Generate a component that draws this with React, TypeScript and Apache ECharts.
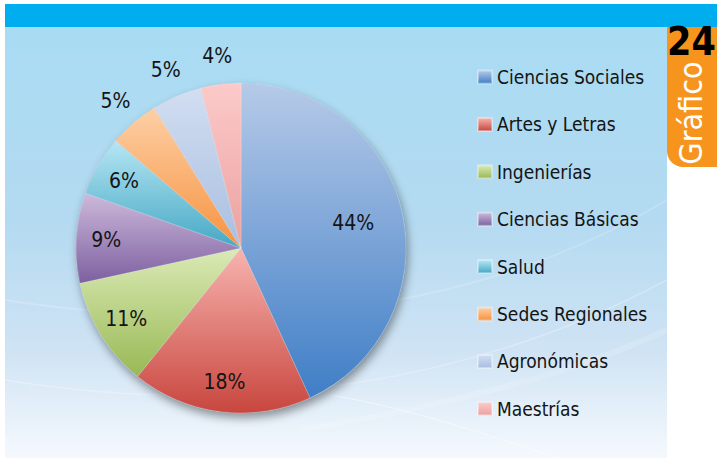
import React, { useEffect, useRef } from "react";
import * as echarts from "echarts";

const categories = [
  "Ciencias Sociales",
  "Artes y Letras",
  "Ingenierías",
  "Ciencias Básicas",
  "Salud",
  "Sedes Regionales",
  "Agronómicas",
  "Maestrías",
];
const values = [44, 18, 11, 9, 6, 5, 5, 4];
const tabNumber = "24";
const tabWord = "Gráfico";

// label placement groups (index lists)
const bigInside = [0];
const inside = [1, 2, 3, 4];
const outside = [5, 6, 7];

const topColors = ["#b6cae8", "#f8b4b0", "#dbeab6", "#cdbadb", "#b6e6f4", "#fdd0a6", "#d2def1", "#fccaca"];
const botColors = ["#3f7ec6", "#c8463e", "#98b954", "#7d60a0", "#45a8c4", "#f7923f", "#a9bee0", "#eaa19f"];

const FONT = "'DejaVu Sans Condensed', sans-serif";

function grad(i: number) {
  return new echarts.graphic.LinearGradient(0, 0, 0, 1, [
    { offset: 0, color: topColors[i] },
    { offset: 1, color: botColors[i] },
  ]);
}

export default function App() {
  const ref = useRef<HTMLDivElement>(null);
  useEffect(() => {
    document.body.style.margin = "0";
    const chart = echarts.init(ref.current!, null, { renderer: "svg" });
    const cx = 241;
    const cy = 248;
    const R = 165;

    const mainData = categories.map((name, i) => ({
      name,
      value: values[i],
      itemStyle: { color: grad(i) },
    }));

    const labelSeries = (idx: number[], radius: number[]) => ({
      type: "pie",
      silent: true,
      animation: false,
      center: [cx, cy],
      radius,
      startAngle: 90,
      z: 5,
      legendHoverLink: false,
      emphasis: { disabled: true },
      itemStyle: { color: "rgba(0,0,0,0)", borderWidth: 0 },
      labelLine: { show: false },
      data: categories.map((name, i) => ({
        name: name + " ",
        value: values[i],
        label: {
          show: idx.includes(i),
          position: "inside",
          formatter: "{c}%",
          color: "#141414",
          fontSize: 21,
          fontFamily: FONT,
        },
      })),
    });

    const option: any = {
      animation: false,
      graphic: [
        {
          type: "rect",
          z: -10,
          shape: { x: 5, y: 27, width: 662, height: 431 },
          style: {
            fill: new echarts.graphic.LinearGradient(0, 0, 0, 1, [
              { offset: 0, color: "#a8dcf3" },
              { offset: 0.45, color: "#b4daf1" },
              { offset: 0.75, color: "#cfe3f4" },
              { offset: 1, color: "#f5f9fd" },
            ]),
          },
        },
        {
          type: "bezierCurve",
          z: -9,
          shape: { x1: 5, y1: 300, cpx1: 200, cpy1: 330, cpx2: 450, cpy2: 330, x2: 667, y2: 200 },
          style: { stroke: "rgba(255,255,255,0.18)", lineWidth: 2, fill: null },
        },
        {
          type: "bezierCurve",
          z: -9,
          shape: { x1: 5, y1: 380, cpx1: 250, cpy1: 420, cpx2: 480, cpy2: 380, x2: 667, y2: 280 },
          style: { stroke: "rgba(255,255,255,0.25)", lineWidth: 1.5, fill: null },
        },
        {
          type: "bezierCurve",
          z: -9,
          shape: { x1: 330, y1: 395, cpx1: 420, cpy1: 410, cpx2: 500, cpy2: 440, x2: 560, y2: 458 },
          style: { stroke: "rgba(255,255,255,0.45)", lineWidth: 1, fill: null },
        },
        {
          type: "bezierCurve",
          z: -9,
          shape: { x1: 300, y1: 430, cpx1: 420, cpy1: 410, cpx2: 560, cpy2: 380, x2: 667, y2: 330 },
          style: { stroke: "rgba(255,255,255,0.15)", lineWidth: 6, fill: null },
        },
        {
          type: "rect",
          z: -8,
          shape: { x: 5, y: 4, width: 712, height: 23 },
          style: { fill: "#00adef" },
        },
        {
          type: "rect",
          z: -8,
          shape: { x: 667, y: 27, width: 50, height: 140, r: [0, 0, 0, 16] },
          style: { fill: "#f7941e" },
        },
        {
          type: "text",
          z: -7,
          x: 667,
          y: 61,
          style: {
            text: tabNumber,
            fill: "#000",
            fontSize: 39,
            fontWeight: "bold",
            fontFamily: "'DejaVu Sans Condensed', sans-serif",
            textVerticalAlign: "bottom",
            textAlign: "left",
          },
        },
        {
          type: "text",
          z: -7,
          x: 691,
          y: 113,
          rotation: Math.PI / 2,
          style: {
            text: tabWord,
            fill: "#fff",
            fontSize: 32,
            fontFamily: FONT,
            textAlign: "center",
            textVerticalAlign: "middle",
          },
        },
      ],
      legend: {
        orient: "vertical",
        left: 477,
        top: 67,
        padding: 0,
        icon: "rect",
        itemWidth: 14,
        itemHeight: 13,
        itemGap: 27.4,
        selectedMode: false,
        data: categories,
        textStyle: {
          color: "#141414",
          fontSize: 19,
          lineHeight: 20,
          fontFamily: FONT,
        },
      },
      series: [
        {
          type: "pie",
          silent: true,
          center: [cx, cy],
          radius: [0, R],
          z: 1,
          legendHoverLink: false,
          label: { show: false },
          labelLine: { show: false },
          itemStyle: {
            color: "#8aa8c8",
            shadowColor: "rgba(0,0,0,0.4)",
            shadowBlur: 10,
            shadowOffsetX: 2,
            shadowOffsetY: 5,
          },
          data: [{ name: "_", value: 1 }],
        },
        {
          type: "pie",
          center: [cx, cy],
          radius: [0, R],
          startAngle: 90,
          z: 3,
          emphasis: { disabled: true },
          label: { show: false },
          labelLine: { show: false },
          itemStyle: { borderColor: "rgba(255,255,255,0.35)", borderWidth: 0.6 },
          data: mainData,
        },
        labelSeries(bigInside, [100, 124]),
        labelSeries(inside, [122, 142]),
        labelSeries(outside, [178, 202]),
      ],
    };
    chart.setOption(option);
    return () => chart.dispose();
  }, []);
  return (
    <div
      ref={ref}
      style={{ position: "fixed", left: 0, top: 0, width: 717, height: 458, background: "#fff" }}
    />
  );
}
